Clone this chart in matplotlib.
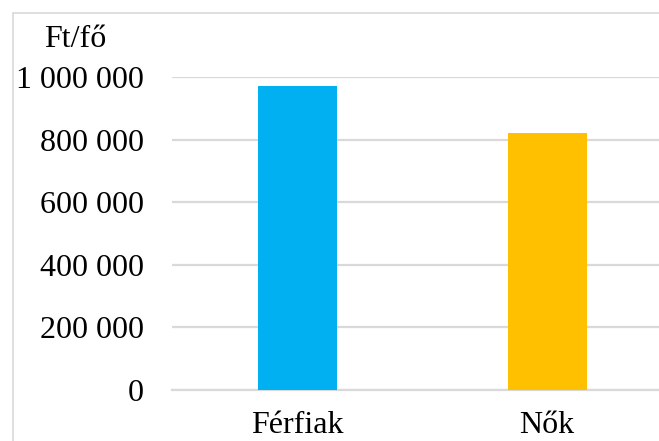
import matplotlib
matplotlib.use("Agg")
import matplotlib.pyplot as plt
from matplotlib.ticker import FuncFormatter, MultipleLocator
from matplotlib.patches import Rectangle

categories = ["Férfiak", "Nők"]
values = [972000, 822000]
colors = ["#00B0F0", "#FFC000"]
unit_label = "Ft/fő"

plt.rcParams["font.family"] = ["Liberation Serif", "DejaVu Serif"]

W, H = 659, 441
fig = plt.figure(figsize=(W / 100, H / 100), dpi=100)

# outer chart border (its right and bottom sides fall outside the canvas)
fig.patches.append(Rectangle((13 / W, -0.05), 1.1, 1 - 13 / H + 0.05,
                             transform=fig.transFigure, fill=False,
                             edgecolor="#d9d9d9", linewidth=1.2))

left, bottom, top = 172 / W, 1 - 390 / H, 1 - 77 / H
ax = fig.add_axes([left, bottom, 500 / W, top - bottom])

x = range(len(categories))
ax.bar(x, values, width=0.316, color=colors, zorder=3)

ax.set_xlim(-0.5, 1.5)
ax.set_ylim(0, 1000000)
ax.yaxis.set_major_locator(MultipleLocator(200000))
ax.yaxis.set_major_formatter(FuncFormatter(lambda v, p: f"{int(v):,}".replace(",", " ")))
ax.set_xticks(list(x))
ax.set_xticklabels(categories)

ax.grid(axis="y", color="#d9d9d9", linewidth=1.6, zorder=0)
for s in ("left", "right", "top"):
    ax.spines[s].set_visible(False)
ax.spines["bottom"].set_color("#d9d9d9")
ax.spines["bottom"].set_linewidth(1.6)

ax.tick_params(axis="y", length=0, pad=20, labelsize=23, colors="black")
ax.tick_params(axis="x", length=0, pad=15, labelsize=23, colors="black")

fig.text(75 / W, 1 - 47 / H, unit_label, ha="center", va="baseline", fontsize=23)

fig.savefig("out.png", dpi=100)
